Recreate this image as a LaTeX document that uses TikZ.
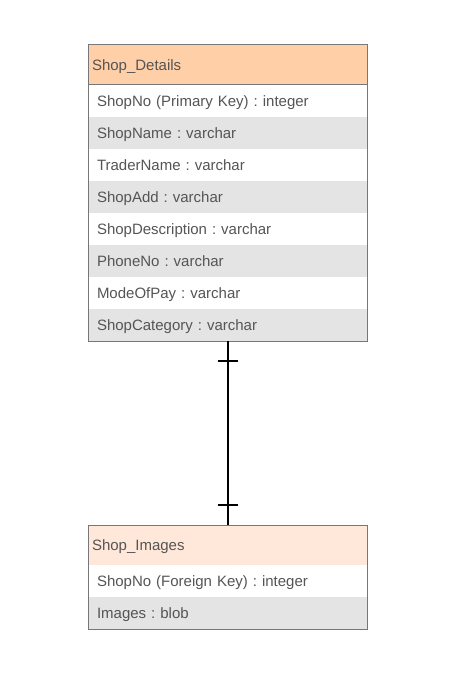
\documentclass[tikz,border=0pt]{standalone}
\usepackage{fontspec}
\setmainfont{Liberation Sans}
\usetikzlibrary{positioning}
\frenchspacing
\definecolor{headA}{HTML}{FFCFA8}
\definecolor{headB}{HTML}{FFE8D9}
\definecolor{rowgray}{HTML}{E4E4E4}
\definecolor{edgegray}{HTML}{777777}
\definecolor{textgray}{HTML}{555555}
\tikzstyle{title} = [rectangle, minimum width=209.25pt, minimum height=30pt, text width=203.25pt, inner xsep=3pt, inner ysep=0pt, outer sep=0pt, text height=10pt, text depth=2pt, align=left, anchor=north west, draw=edgegray, line width=0.75pt, text=textgray, font=\fontsize{11.25}{12}\selectfont]
\tikzstyle{field} = [rectangle, minimum width=209.25pt, minimum height=24pt, text width=195.75pt, inner xsep=6.75pt, inner ysep=0pt, outer sep=0pt, text height=10pt, text depth=2pt, align=left, text=textgray, font=\fontsize{11.25}{12}\selectfont]
\tikzstyle{odd} = [field, fill=white]
\tikzstyle{even} = [field, fill=rowgray]
\tikzstyle{link} = [line width=1.5pt]

\begin{document}
\begin{tikzpicture}[x=0.75pt, y=-0.75pt, node distance=0pt]
    \useasboundingbox (0,0) rectangle (449,680);
    % Shop_Details table
    \node (details) [title, fill=headA] at (88,45) {Shop\_Details};
    \node (d1) [odd, below=of details] {ShopNo (Primary Key) : integer};
    \node (d2) [even, below=of d1] {ShopName : varchar};
    \node (d3) [odd, below=of d2] {TraderName : varchar};
    \node (d4) [even, below=of d3] {ShopAdd : varchar};
    \node (d5) [odd, below=of d4] {ShopDescription : varchar};
    \node (d6) [even, below=of d5] {PhoneNo : varchar};
    \node (d7) [odd, below=of d6] {ModeOfPay : varchar};
    \node (d8) [even, below=of d7] {ShopCategory : varchar};
    \draw [draw=edgegray, line width=0.75pt] (details.north west) rectangle (d8.south east);

    % Shop_Images table
    \node (images) [title, fill=headB] at (88,525) {Shop\_Images};
    \node (i1) [odd, below=of images] {ShopNo (Foreign Key) : integer};
    \node (i2) [even, below=of i1] {Images : blob};
    \draw [draw=edgegray, line width=0.75pt] (images.north west) rectangle (i2.south east);

    % One-to-one relationship
    \draw [link] (d8.south) -- (images.north);
    \draw [link] ([xshift=-7.5pt, yshift=-15pt]d8.south) -- ([xshift=7.5pt, yshift=-15pt]d8.south);
    \draw [link] ([xshift=-7.5pt, yshift=15pt]images.north) -- ([xshift=7.5pt, yshift=15pt]images.north);
\end{tikzpicture}
\end{document}
